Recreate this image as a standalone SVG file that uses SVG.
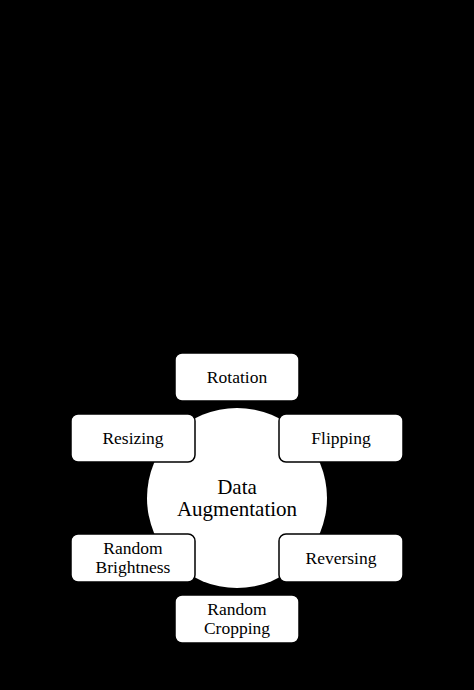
<svg xmlns="http://www.w3.org/2000/svg" width="474" height="690" viewBox="0 0 474 690">
<style>
.box{fill:#fff;stroke:#000;stroke-width:1.5}
.t{font-family:"Liberation Serif","Times New Roman",serif;font-size:17.5px;fill:#000;text-anchor:middle}
.c{font-family:"Liberation Serif","Times New Roman",serif;font-size:21px;fill:#000;text-anchor:middle}
</style>
<rect x="0" y="0" width="474" height="690" fill="#000"/>
<g id="center">
<circle cx="237" cy="498" r="90" fill="#fff"/>
<text class="c" x="237" y="494">Data</text>
<text class="c" x="237" y="516">Augmentation</text>
</g>
<g id="connectors"></g>
<g id="rotation"><rect class="box" x="175" y="353" width="124" height="48" rx="7"/><text class="t" x="237" y="383">Rotation</text></g>
<g id="resizing"><rect class="box" x="71" y="414" width="124" height="48" rx="7"/><text class="t" x="133" y="444">Resizing</text></g>
<g id="flipping"><rect class="box" x="279" y="414" width="124" height="48" rx="7"/><text class="t" x="341" y="444">Flipping</text></g>
<g id="brightness"><rect class="box" x="71" y="534" width="124" height="48" rx="7"/><text class="t" x="133" y="554">Random</text><text class="t" x="133" y="573">Brightness</text></g>
<g id="reversing"><rect class="box" x="279" y="534" width="124" height="48" rx="7"/><text class="t" x="341" y="564">Reversing</text></g>
<g id="cropping"><rect class="box" x="175" y="595" width="124" height="48" rx="7"/><text class="t" x="237" y="615">Random</text><text class="t" x="237" y="634">Cropping</text></g>
</svg>
